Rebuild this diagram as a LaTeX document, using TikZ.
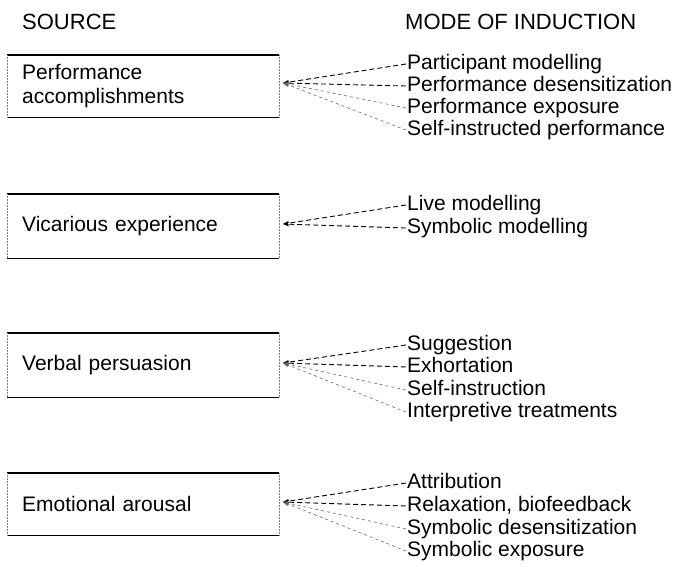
\documentclass[tikz,border=0pt]{standalone}
\usepackage{fontspec}
\setmainfont{Liberation Sans}
\usetikzlibrary{arrows.meta}
\begin{document}
\begin{tikzpicture}[
                      x = 1pt,
                      y = -1pt,
      every node/.style = {font=\fontsize{21}{24}\selectfont, inner sep=1pt},
         heading/.style = {anchor=west, font=\fontsize{22}{24}\selectfont},
          source/.style = {anchor=north west, minimum height=62pt, inner xsep=15pt,
                           text width=242pt, align=left},
            mode/.style = {anchor=west, text height=15pt, text depth=4pt},
             rim/.style = {line width=1.4pt},
            side/.style = {densely dotted, line width=0.5pt, gray},
            link/.style = {dash pattern=on 5pt off 3pt, line width=0.9pt,
                           -{Stealth[length=6pt, width=4.5pt]}},
           faint/.style = {dash pattern=on 3pt off 3pt, line width=0.6pt, black!60,
                           -{Stealth[length=6pt, width=4.5pt]}},
                      ]
    \useasboundingbox (0,0) rectangle (677,566);
    % headings
    \node[heading] (hsrc) at (21,22) {SOURCE};
    \node[heading] (hmode) at (404,22) {MODE OF INDUCTION};
    % sources
    \node[source] (b1) at (7,55) {Performance\\accomplishments};
    \node[source, minimum height=64pt] (b2) at (7,194) {Vicarious experience};
    \node[source, minimum height=64pt] (b3) at (7,333) {Verbal persuasion};
    \node[source] (b4) at (7,473) {Emotional arousal};
    \foreach \b in {b1,b2,b3,b4} {
        \draw[rim] (\b.north west) -- (\b.north east);
        \draw[rim] (\b.south west) -- (\b.south east);
        \draw[side] (\b.north west) -- (\b.south west);
        \draw[side] (\b.north east) -- (\b.south east);
    }
    \coordinate (t1) at (283,83);
    \coordinate (t2) at (283,224);
    \coordinate (t3) at (283,363);
    \coordinate (t4) at (283,502);
    % modes of induction
    \node[mode] (m11) at (406,64) {Participant modelling};
    \node[mode] (m12) at (406,86) {Performance desensitization};
    \node[mode] (m13) at (406,108) {Performance exposure};
    \node[mode] (m14) at (406,130) {Self-instructed performance};
    \node[mode] (m21) at (406,205) {Live modelling};
    \node[mode] (m22) at (406,228) {Symbolic modelling};
    \node[mode] (m31) at (406,345) {Suggestion};
    \node[mode] (m32) at (406,367) {Exhortation};
    \node[mode] (m33) at (406,390) {Self-instruction};
    \node[mode] (m34) at (406,412) {Interpretive treatments};
    \node[mode] (m41) at (406,483) {Attribution};
    \node[mode] (m42) at (406,506) {Relaxation, biofeedback};
    \node[mode] (m43) at (406,529) {Symbolic desensitization};
    \node[mode] (m44) at (406,551) {Symbolic exposure};
    % links
    \foreach \s in {1,3,4} {
        \draw[link] (m\s1.west) -- (t\s);
        \draw[link] (m\s2.west) -- (t\s);
        \draw[faint] (m\s3.west) -- (t\s);
        \draw[faint] (m\s4.west) -- (t\s);
    }
    \draw[link] (m21.west) -- (t2);
    \draw[link] (m22.west) -- (t2);
\end{tikzpicture}
\end{document}
